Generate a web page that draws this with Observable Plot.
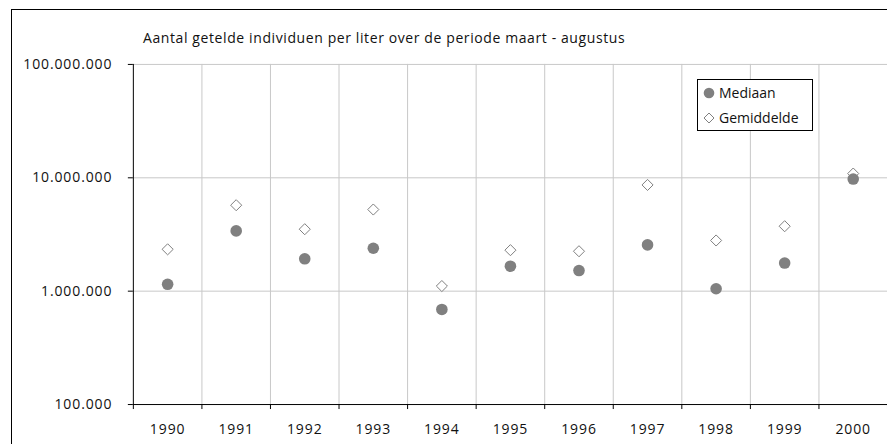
<!DOCTYPE html>
<html>
<head>
<meta charset="utf-8">
<script src="https://cdn.jsdelivr.net/npm/d3@7"></script>
<script src="https://cdn.jsdelivr.net/npm/@observablehq/plot@0.6"></script>
<style>
  html, body { margin: 0; padding: 0; background: #fff; }
  #wrap { position: relative; width: 887px; height: 444px; overflow: hidden; background: #fff; }
  #frame { position: absolute; left: 11px; top: 9px; width: 1000px; height: 1000px; border: 1px solid #000; box-sizing: border-box; background: transparent; pointer-events: none; }
  #title { position: absolute; left: 143px; top: 29px; font-family: "Open Sans", sans-serif; font-size: 14px; letter-spacing: 0.6px; color: #111; white-space: nowrap; line-height: 18px; }
  #chart { position: absolute; left: 0; top: 0; }
  #legend { position: absolute; left: 697px; top: 79px; width: 116px; height: 52px; box-sizing: border-box; border: 1px solid #000; background: #fff; font-family: "Open Sans", sans-serif; font-size: 14px; color: #111; }
  .item { position: absolute; left: 4px; height: 20px; line-height: 20px; white-space: nowrap; }
  .item svg { position: absolute; left: 0; top: 3px; }
  .item span { position: absolute; left: 17px; top: 0; }
</style>
</head>
<body>
<div id="wrap">
  <div id="chart"></div>
  <div id="frame"></div>
  <div id="title">Aantal getelde individuen per liter over de periode maart - augustus</div>
  <div id="legend">
    <div class="item" style="top:3px"><svg width="14" height="14"><circle cx="7" cy="7" r="5.3" fill="#808080"/></svg><span>Mediaan</span></div>
    <div class="item" style="top:28px"><svg width="14" height="14"><path d="M7,2L12,7L7,12L2,7Z" fill="#fff" stroke="#808080" stroke-width="1"/></svg><span>Gemiddelde</span></div>
  </div>
</div>
<script>
const years = [1990, 1991, 1992, 1993, 1994, 1995, 1996, 1997, 1998, 1999, 2000];
const mediaan = [1150000, 3400000, 1930000, 2390000, 690000, 1660000, 1520000, 2560000, 1050000, 1770000, 9750000];
const gemiddelde = [2340000, 5730000, 3520000, 5250000, 1110000, 2300000, 2250000, 8650000, 2800000, 3740000, 10900000];
const yTicks = [100000, 1000000, 10000000, 100000000];

const bounds = years.map(y => y - 0.5).concat([years[years.length - 1] + 0.5]);
const medData = years.map((y, i) => ({year: y, value: mediaan[i]}));
const gemData = years.map((y, i) => ({year: y, value: gemiddelde[i]}));
const fmt = d => d3.format(",")(d).replace(/,/g, ".");
const yMin = yTicks[0], yMax = yTicks[yTicks.length - 1];

const chart = Plot.plot({
  width: 888,
  height: 444,
  marginLeft: 133,
  marginRight: 0,
  marginTop: 64,
  marginBottom: 39.5,
  style: {fontFamily: "'Open Sans', sans-serif", fontSize: "14px", letterSpacing: "0.9px", background: "transparent", color: "#111", overflow: "visible"},
  x: {type: "linear", domain: [bounds[0], bounds[bounds.length - 1]]},
  y: {type: "log", domain: [yMin, yMax]},
  marks: [
    Plot.ruleY(yTicks.slice(1), {stroke: "#c8c8c8", strokeWidth: 1}),
    Plot.ruleX(bounds.slice(1), {y1: yMin, y2: yMax, stroke: "#c8c8c8", strokeWidth: 1}),
    Plot.ruleX(bounds.slice(0, 1), {y1: yMin, y2: yMax, stroke: "#000", strokeWidth: 1}),
    Plot.ruleY(yTicks.slice(0, 1), {stroke: "#000", strokeWidth: 1}),
    Plot.axisY({ticks: yTicks, tickSize: 5, tickPadding: 16, tickFormat: fmt, label: null, stroke: "#000"}),
    Plot.axisX({ticks: bounds, tickSize: 5, tickFormat: () => "", label: null, stroke: "#000"}),
    Plot.axisX({ticks: years, tickSize: 0, tickPadding: 20, tickFormat: d => String(d), label: null}),
    Plot.dot(gemData, {x: "year", y: "value", symbol: "diamond2", r: 5, fill: "#fff", stroke: "#808080", strokeWidth: 1}),
    Plot.dot(medData, {x: "year", y: "value", symbol: "circle", r: 5.8, fill: "#808080", stroke: "none"})
  ]
});
document.getElementById("chart").appendChild(chart);
</script>
</body>
</html>
